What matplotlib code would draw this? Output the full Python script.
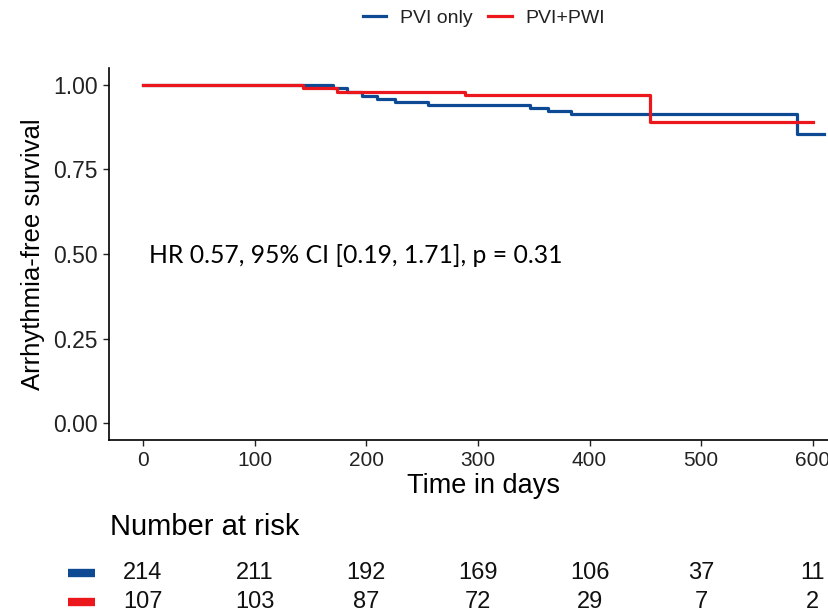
import matplotlib
matplotlib.use("Agg")
import matplotlib.pyplot as plt
from matplotlib.lines import Line2D

plt.rcParams['font.family'] = ['Liberation Sans', 'DejaVu Sans']

# Kaplan-Meier steps
groups = ["PVI only", "PVI+PWI"]
blue_days = [0, 170, 183, 196, 210, 226, 255, 347, 363, 383, 586, 610]
blue_surv = [1.0, 0.990, 0.980, 0.967, 0.958, 0.950, 0.941, 0.932, 0.923, 0.914, 0.855, 0.855]
red_days = [0, 143, 174, 288, 454, 600]
red_surv = [1.0, 0.991, 0.980, 0.970, 0.890, 0.890]

risk_times = [0, 100, 200, 300, 400, 500, 600]
risk_blue = [214, 211, 192, 169, 106, 37, 11]
risk_red = [107, 103, 87, 72, 29, 7, 2]

hr_text = "HR 0.57, 95% CI [0.19, 1.71], p = 0.31"

c_blue = "#0E4A93"
c_red = "#EC161D"
W, H = 829, 613

fig = plt.figure(figsize=(W / 100, H / 100), dpi=100)

# main axes (runs off the right edge like the reference)
L, R, T, B = 109, 858, 68, 440
ax = fig.add_axes([L / W, 1 - B / H, (R - L) / W, (B - T) / H])
ax.step(blue_days, blue_surv, where='post', color=c_blue, lw=2.3)
ax.step(red_days, red_surv, where='post', color=c_red, lw=2.3)
ax.set_xlim(-30.5, 640.5)
ax.set_ylim(-0.05, 1.05)
ax.set_xticks(risk_times)
ax.set_yticks([0, 0.25, 0.5, 0.75, 1.0])
ax.set_yticklabels(["0.00", "0.25", "0.50", "0.75", "1.00"])
for s in ["top", "right"]:
    ax.spines[s].set_visible(False)
for s in ["left", "bottom"]:
    ax.spines[s].set_linewidth(1.2)
ax.tick_params(length=4, width=1.0, colors="#222222", pad=4)
ax.tick_params(axis='x', labelsize=15)
ax.tick_params(axis='y', labelsize=16.5)
ax.set_xlabel("Time in days", fontsize=19.5)
ax.set_ylabel("Arrhythmia-free survival", fontsize=18.5)
ax.xaxis.set_label_coords(0.5, (B - 486) / (B - T))
ax.xaxis.label.set_va('center')
ax.yaxis.set_label_coords((33 - L) / (R - L), 0.5)
ax.yaxis.label.set_va('center')
ax.text(5, 0.497, hr_text, fontsize=17.8, va='center', ha='left',
        family=['Lato', 'DejaVu Sans'])

# legend at the top
handles = [Line2D([], [], color=c_blue, lw=2.3), Line2D([], [], color=c_red, lw=2.3)]
fig.legend(handles, groups, loc='center', bbox_to_anchor=(484 / W, 1 - 18 / H),
           ncol=2, frameon=False, fontsize=14, handlelength=1.2,
           handletextpad=0.7, columnspacing=0.8, labelcolor="#222222")

# number at risk table
fig.text(110 / W, 1 - 527 / H, "Number at risk", fontsize=21, va='center', ha='left')
axr = fig.add_axes([L / W, 1 - 602 / H, (R - L) / W, 29 / H])
axr.set_xlim(ax.get_xlim())
axr.set_ylim(0, 1)
axr.axis('off')
for row, (vals, col) in enumerate([(risk_blue, c_blue), (risk_red, c_red)]):
    yy = 1 - row
    axr.plot([-67, -43], [yy, yy], color=col, lw=6, solid_capstyle='butt', clip_on=False)
    for t, v in zip(risk_times, vals):
        axr.text(t, yy, str(v), fontsize=17, ha='center', va='center', color="#111111")

fig.savefig("out.png", dpi=100)
